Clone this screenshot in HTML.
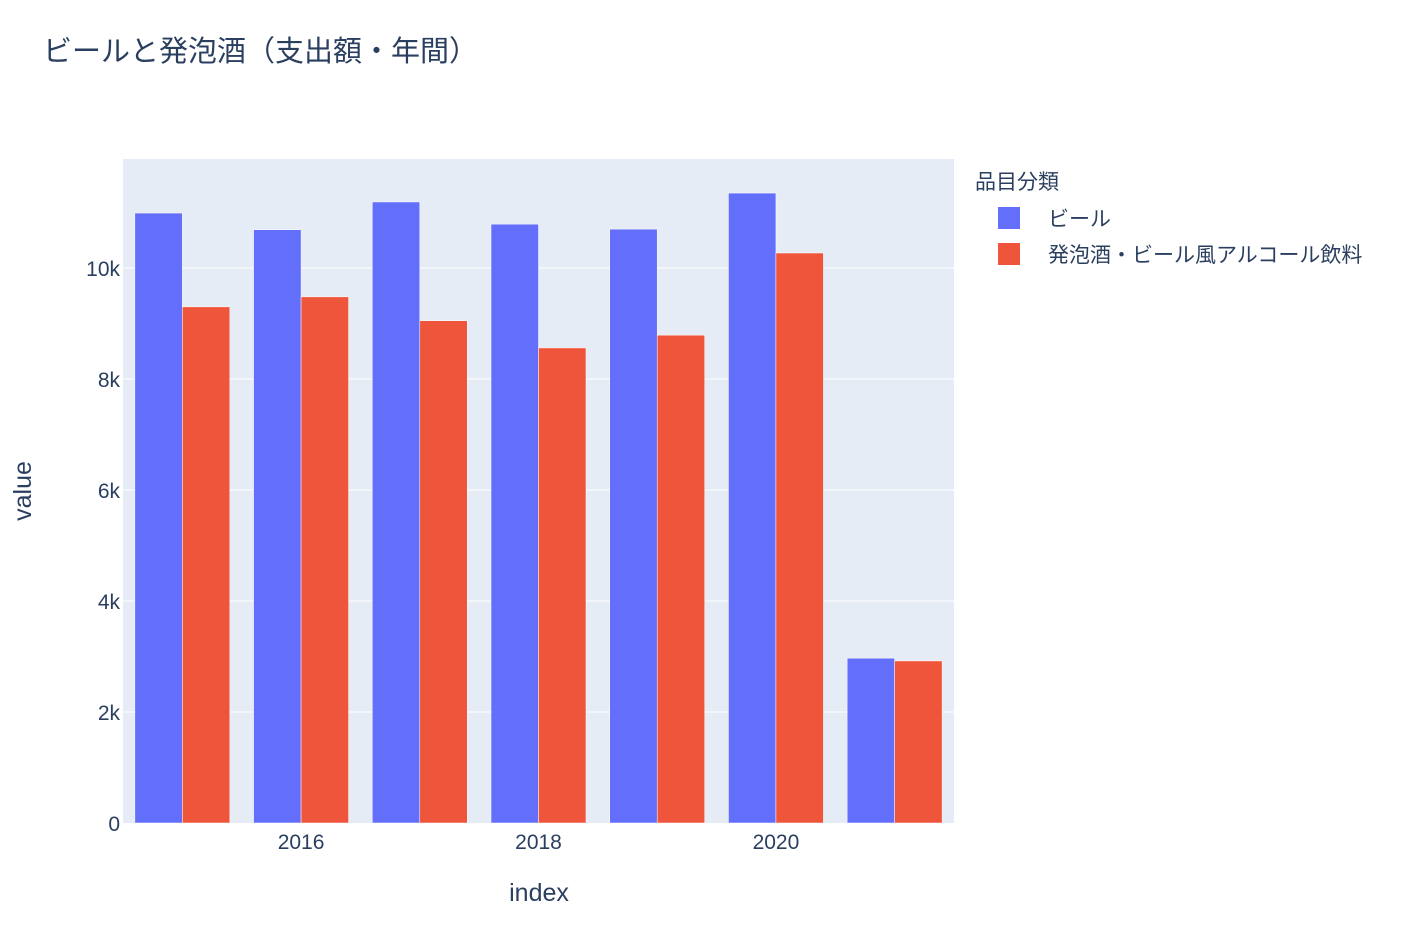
<!DOCTYPE html>
<html><head><meta charset="utf-8"><style>
body{margin:0;background:#fff;font-family:"Liberation Sans","Noto Sans CJK JP",sans-serif;}
svg text{font-family:"Liberation Sans","Noto Sans CJK JP",sans-serif;fill:#2a3f5f;}
</style></head><body>
<svg id="chart" width="1411" height="936">
<text x="43" y="61" font-size="29">ビールと発泡酒（支出額・年間）</text>
<rect x="123" y="159" width="831" height="664" fill="#e5ecf6"/>
<g id="grid"></g><g id="bars"></g><g id="ticks"></g>
<text x="539" y="901" font-size="25" text-anchor="middle">index</text>
<text transform="translate(31,491) rotate(-90)" font-size="25" text-anchor="middle">value</text>
<text x="975" y="189" font-size="21">品目分類</text>
<g><rect x="998" y="207" width="22" height="22" fill="#636efa"/><text x="1048" y="226" font-size="21">ビール</text></g>
<g><rect x="998" y="243" width="22" height="22" fill="#ef553b"/><text x="1048" y="262" font-size="21">発泡酒・ビール風アルコール飲料</text></g>
</svg>
<script>
const years=[2015,2016,2017,2018,2019,2020,2021];
const beer=[10990,10690,11190,10790,10700,11350,2970];
const happo=[9300,9480,9050,8560,8790,10270,2920];
const yTicks=[0,2000,4000,6000,8000,10000];
const yTickLabels=["0","2k","4k","6k","8k","10k"];
const xTicks=[2016,2018,2020];
const NS="http://www.w3.org/2000/svg";
const X0=123,X1=954,Y0=823,Y1=159;
const x=v=>X0+(v-2014.5)/7*(X1-X0);
const y=v=>Y0-v*(Y0-268)/10000;
const bw=(x(1)-x(0))*0.4;
function mk(t,a,p){const e=document.createElementNS(NS,t);for(const k in a)e.setAttribute(k,a[k]);p.appendChild(e);return e;}
const grid=document.getElementById('grid'),bars=document.getElementById('bars'),ticks=document.getElementById('ticks');
yTicks.forEach((v,i)=>{
 if(v>0){const l=mk('line',{x1:X0,x2:X1,y1:y(v),y2:y(v),stroke:'#fff','stroke-width':1},grid);
 
 }
 const t=mk('text',{x:X0-3,y:y(v)+8,'font-size':21,'text-anchor':'end'},ticks);t.textContent=yTickLabels[i];
 
 
});
xTicks.forEach(v=>{const t=mk('text',{x:x(v),y:849,'font-size':21,'text-anchor':'middle'},ticks);t.textContent=v;
 
 });
years.forEach((yr,i)=>{
 const b=mk('rect',{x:x(yr)-bw,y:y(beer[i]),width:bw,height:Y0-y(beer[i]),fill:'#636efa',stroke:'#fff','stroke-width':0.5},bars);
 
 
 const r=mk('rect',{x:x(yr),y:y(happo[i]),width:bw,height:Y0-y(happo[i]),fill:'#ef553b',stroke:'#fff','stroke-width':0.5},bars);
 
 
});
</script>
</body></html>
